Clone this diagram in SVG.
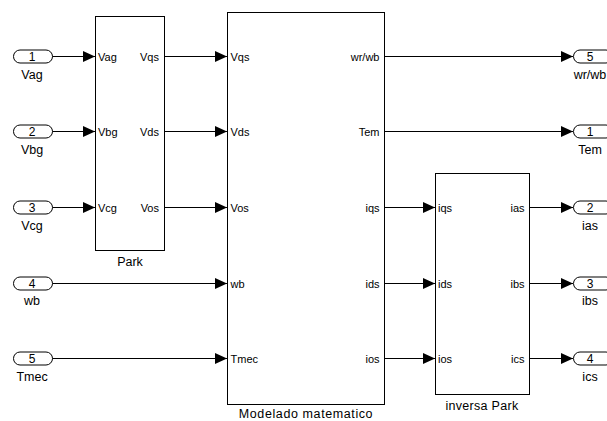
<svg xmlns="http://www.w3.org/2000/svg" width="607" height="421" viewBox="0 0 607 421">
<style>
  .blk{fill:#fff;stroke:#000;stroke-width:1}
  .port{fill:#fff;stroke:#000;stroke-width:1}
  .ln{fill:none;stroke:#000;stroke-width:1}
  text{font-family:"Liberation Sans",Arial,sans-serif;fill:#000}
  .pl{font-size:11px}
  .pr{font-size:11px;text-anchor:end}
  .num{font-size:12px;text-anchor:middle}
  .lab{font-size:12.5px;text-anchor:middle}
</style>
<defs>
  <marker id="arr" markerUnits="userSpaceOnUse" markerWidth="13" markerHeight="12" viewBox="0 -6 13 12" refX="12" refY="0" orient="auto">
    <path d="M0,-5.5 L12,0 L0,5.5 z" fill="#000"/>
  </marker>
</defs>
<rect width="607" height="421" fill="#fff"/>

<g id="connectors">
  <line class="ln" x1="52" y1="56.5" x2="95" y2="56.5" marker-end="url(#arr)"/>
  <line class="ln" x1="52" y1="131.5" x2="95" y2="131.5" marker-end="url(#arr)"/>
  <line class="ln" x1="52" y1="207.5" x2="95" y2="207.5" marker-end="url(#arr)"/>
  <line class="ln" x1="52" y1="283.5" x2="227" y2="283.5" marker-end="url(#arr)"/>
  <line class="ln" x1="52" y1="358.5" x2="227" y2="358.5" marker-end="url(#arr)"/>
  <line class="ln" x1="165" y1="56.5" x2="227" y2="56.5" marker-end="url(#arr)"/>
  <line class="ln" x1="165" y1="131.5" x2="227" y2="131.5" marker-end="url(#arr)"/>
  <line class="ln" x1="165" y1="207.5" x2="227" y2="207.5" marker-end="url(#arr)"/>
  <line class="ln" x1="385" y1="56.5" x2="573" y2="56.5" marker-end="url(#arr)"/>
  <line class="ln" x1="385" y1="131.5" x2="573" y2="131.5" marker-end="url(#arr)"/>
  <line class="ln" x1="385" y1="207.5" x2="435" y2="207.5" marker-end="url(#arr)"/>
  <line class="ln" x1="385" y1="283.5" x2="435" y2="283.5" marker-end="url(#arr)"/>
  <line class="ln" x1="385" y1="358.5" x2="435" y2="358.5" marker-end="url(#arr)"/>
  <line class="ln" x1="529" y1="207.5" x2="573" y2="207.5" marker-end="url(#arr)"/>
  <line class="ln" x1="529" y1="283.5" x2="573" y2="283.5" marker-end="url(#arr)"/>
  <line class="ln" x1="529" y1="358.5" x2="573" y2="358.5" marker-end="url(#arr)"/>
</g>

<g id="in1">
  <rect class="port" x="13.5" y="50" width="39" height="13" rx="6.5"/>
  <text class="num" x="32" y="61">1</text>
  <text class="lab" x="32" y="79">Vag</text>
</g>
<g id="in2">
  <rect class="port" x="13.5" y="125" width="39" height="13" rx="6.5"/>
  <text class="num" x="32" y="136">2</text>
  <text class="lab" x="32" y="154">Vbg</text>
</g>
<g id="in3">
  <rect class="port" x="13.5" y="201" width="39" height="13" rx="6.5"/>
  <text class="num" x="32" y="212">3</text>
  <text class="lab" x="32" y="230">Vcg</text>
</g>
<g id="in4">
  <rect class="port" x="13.5" y="277" width="39" height="13" rx="6.5"/>
  <text class="num" x="32" y="288">4</text>
  <text class="lab" x="32" y="305">wb</text>
</g>
<g id="in5">
  <rect class="port" x="13.5" y="352" width="39" height="13" rx="6.5"/>
  <text class="num" x="32" y="363">5</text>
  <text class="lab" x="32" y="381">Tmec</text>
</g>

<g id="park">
  <rect class="blk" x="95.5" y="16.5" width="69" height="234"/>
  <text class="pl" x="98" y="60.5">Vag</text>
  <text class="pl" x="98" y="135.5">Vbg</text>
  <text class="pl" x="98" y="211.5">Vcg</text>
  <text class="pr" x="159" y="60.5">Vqs</text>
  <text class="pr" x="159" y="135.5">Vds</text>
  <text class="pr" x="159" y="211.5">Vos</text>
  <text class="lab" x="130" y="266">Park</text>
</g>

<g id="modelado">
  <rect class="blk" x="227.5" y="12.5" width="157" height="392"/>
  <text class="pl" x="230.5" y="60.5">Vqs</text>
  <text class="pl" x="230.5" y="135.5">Vds</text>
  <text class="pl" x="230.5" y="211.5">Vos</text>
  <text class="pl" x="230.5" y="287.5">wb</text>
  <text class="pl" x="230.5" y="362.5">Tmec</text>
  <text class="pr" x="379.5" y="60.5">wr/wb</text>
  <text class="pr" x="379.5" y="135.5">Tem</text>
  <text class="pr" x="379.5" y="211.5">iqs</text>
  <text class="pr" x="379.5" y="287.5">ids</text>
  <text class="pr" x="379.5" y="362.5">ios</text>
  <text class="lab" x="306" y="418" letter-spacing="0.6">Modelado matematico</text>
</g>

<g id="inversa">
  <rect class="blk" x="435.5" y="173.5" width="94" height="221"/>
  <text class="pl" x="438" y="211.5">iqs</text>
  <text class="pl" x="438" y="287.5">ids</text>
  <text class="pl" x="438" y="362.5">ios</text>
  <text class="pr" x="524.5" y="211.5">ias</text>
  <text class="pr" x="524.5" y="287.5">ibs</text>
  <text class="pr" x="524.5" y="362.5">ics</text>
  <text class="lab" x="482" y="410" letter-spacing="0.3">inversa Park</text>
</g>

<g id="out5">
  <rect class="port" x="573.5" y="50" width="39" height="13" rx="6.5"/>
  <text class="num" x="590" y="61">5</text>
  <text class="lab" x="590" y="79">wr/wb</text>
</g>
<g id="out1">
  <rect class="port" x="573.5" y="125" width="39" height="13" rx="6.5"/>
  <text class="num" x="590" y="136">1</text>
  <text class="lab" x="590" y="154">Tem</text>
</g>
<g id="out2">
  <rect class="port" x="573.5" y="201" width="39" height="13" rx="6.5"/>
  <text class="num" x="590" y="212">2</text>
  <text class="lab" x="590" y="230">ias</text>
</g>
<g id="out3">
  <rect class="port" x="573.5" y="277" width="39" height="13" rx="6.5"/>
  <text class="num" x="590" y="288">3</text>
  <text class="lab" x="590" y="305">ibs</text>
</g>
<g id="out4">
  <rect class="port" x="573.5" y="352" width="39" height="13" rx="6.5"/>
  <text class="num" x="590" y="363">4</text>
  <text class="lab" x="590" y="381">ics</text>
</g>
</svg>
